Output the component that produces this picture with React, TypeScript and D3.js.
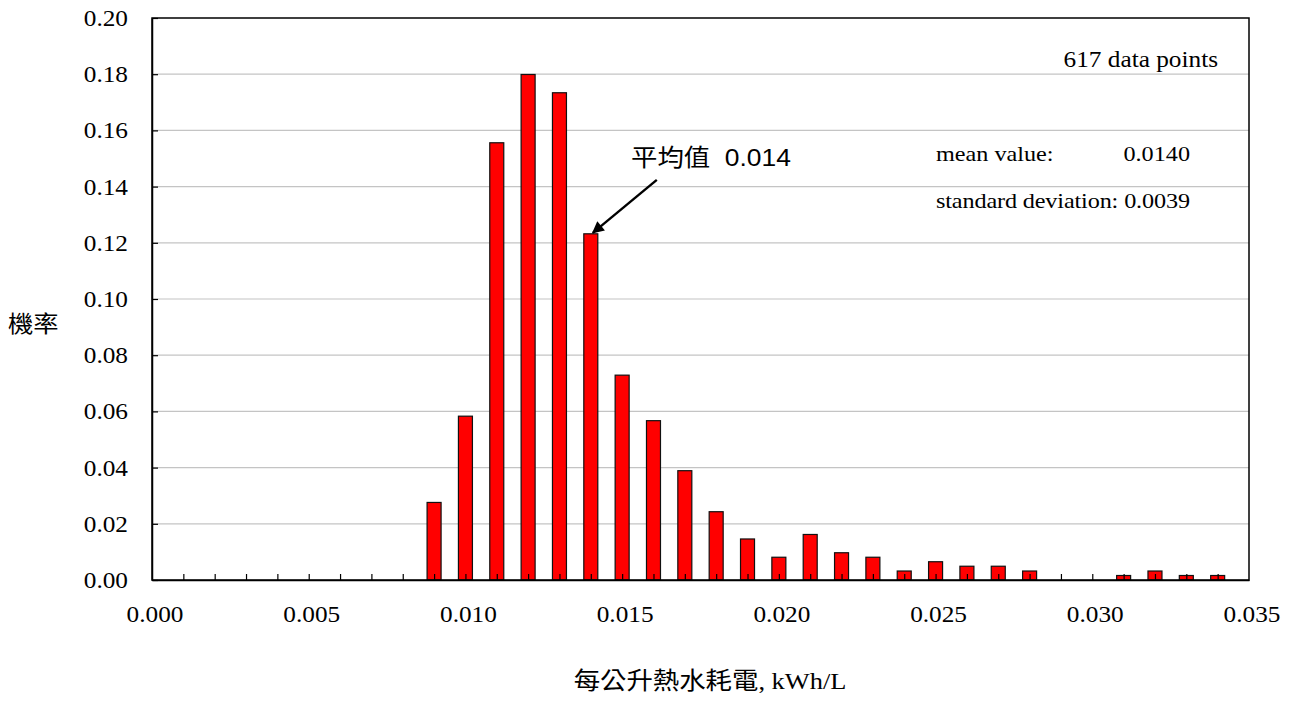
import React, { useEffect, useRef } from "react";
import * as d3 from "d3";

// bin centres (kWh/L) and probability of each bin
const binCenters = [
  0.009, 0.010, 0.011, 0.012, 0.013, 0.014, 0.015, 0.016, 0.017, 0.018, 0.019, 0.020,
  0.021, 0.022, 0.023, 0.024, 0.025, 0.026, 0.027, 0.028, 0.029, 0.030, 0.031, 0.032,
  0.033, 0.034,
];
const probabilities = [
  0.0276, 0.0583, 0.1556, 0.1799, 0.1734, 0.1232, 0.0729, 0.0567, 0.0389, 0.0243, 0.0146, 0.0081,
  0.0162, 0.0097, 0.0081, 0.0032, 0.0065, 0.0049, 0.0049, 0.0032, 0, 0, 0.0016, 0.0032,
  0.0016, 0.0016,
];
const xTickLabels = [0, 0.005, 0.01, 0.015, 0.02, 0.025, 0.03, 0.035];
const yTickValues = [0, 0.02, 0.04, 0.06, 0.08, 0.1, 0.12, 0.14, 0.16, 0.18, 0.2];

const meanValue = 0.014;
const stdDev = 0.0039;
const pointCount = 617;

const serif = "'Times New Roman', 'Liberation Serif', 'Noto Sans CJK TC', serif";
const sans = "Arial, 'Liberation Sans', 'Noto Sans CJK TC', sans-serif";
const stretch = 1.1; // the original picture is a bit wider than tall

const App = () => {
  const svgRef = useRef<SVGSVGElement>(null);

  useEffect(() => {
    const W = 1292;
    const H = 702;
    const margin = { top: 18, right: 43, bottom: 122, left: 152 };

    const svg = d3.select(svgRef.current);
    svg.selectAll("*").remove();
    svg.attr("width", W).attr("height", H);

    // text helper: positioned by transform so it can be stretched horizontally
    const label = (px: number, py: number, txt: string, opts: any = {}) => {
      const t = svg.append("text")
        .attr("transform", `translate(${px}, ${py}) scale(${stretch}, 1)`)
        .attr("text-anchor", opts.anchor || "start")
        .style("font-family", opts.family || serif)
        .style("font-size", `${opts.size || 23}px`)
        .attr("fill", "#000")
        .text(txt);
      if (opts.length) t.attr("textLength", opts.length / stretch);
      return t;
    };

    const x = d3.scaleLinear().domain([0, 0.035]).range([margin.left, W - margin.right]);
    const y = d3.scaleLinear().domain([0, 0.2]).range([H - margin.bottom, margin.top]);
    const barW = 14;

    // gridlines
    svg.append("g")
      .selectAll("line")
      .data(yTickValues.filter(v => v > 0 && v < 0.2))
      .enter().append("line")
      .attr("x1", x(0)).attr("x2", x(0.035))
      .attr("y1", d => y(d)).attr("y2", d => y(d))
      .attr("stroke", "#c4c4c4").attr("stroke-width", 1.2);

    // bars
    svg.append("g")
      .selectAll("rect")
      .data(binCenters.map((c, i) => ({ c, p: probabilities[i] })).filter(d => d.p > 0))
      .enter().append("rect")
      .attr("x", d => x(d.c) - barW / 2)
      .attr("y", d => y(d.p))
      .attr("width", barW)
      .attr("height", d => y(0) - y(d.p))
      .attr("fill", "#ff0000")
      .attr("stroke", "#111").attr("stroke-width", 1.2);

    // frame
    svg.append("rect")
      .attr("x", x(0)).attr("y", y(0.2))
      .attr("width", x(0.035) - x(0)).attr("height", y(0) - y(0.2))
      .attr("fill", "none").attr("stroke", "#000").attr("stroke-width", 1.5);

    // x axis: inside ticks every 0.001, labels every 0.005
    const xAxis = d3.axisBottom(x)
      .tickValues(d3.range(1, 35).map(i => i / 1000))
      .tickSizeInner(-6).tickSizeOuter(0)
      .tickFormat(() => "");
    const gx = svg.append("g").attr("transform", `translate(0, ${y(0)})`).call(xAxis);
    gx.select(".domain").attr("stroke", "#000").attr("stroke-width", 1.5);
    gx.selectAll(".tick line").attr("stroke", "#000").attr("stroke-width", 1.2);

    xTickLabels.forEach(v => label(x(v) + 3, y(0) + 42, d3.format(".3f")(v), { anchor: "middle" }));

    // y axis: inside ticks, labels on the left
    const yAxis = d3.axisLeft(y)
      .tickValues(yTickValues)
      .tickSizeInner(-6).tickSizeOuter(0)
      .tickFormat(() => "");
    const gy = svg.append("g").attr("transform", `translate(${x(0)}, 0)`).call(yAxis);
    gy.select(".domain").attr("stroke", "#000").attr("stroke-width", 1.5);
    gy.selectAll(".tick line").attr("stroke", "#000").attr("stroke-width", 1.2);

    yTickValues.forEach(v => label(128, y(v) + 8, d3.format(".2f")(v), { anchor: "end" }));

    // axis titles
    label(8, 332, "機率");
    label(710, 689, "每公升熱水耗電, kWh/L", { anchor: "middle", size: 24 });

    // stats block
    label(1218, 67, `${pointCount} data points`, { anchor: "end" });
    label(936, 161, "mean value:", { size: 22 });
    label(1190, 161, meanValue.toFixed(4), { anchor: "end", size: 22 });
    label(936, 208, `standard deviation: ${stdDev.toFixed(4)}`, { size: 22, length: 254 });

    // mean annotation with arrow
    const defs = svg.append("defs");
    defs.append("marker")
      .attr("id", "arrowHead")
      .attr("viewBox", "0 0 10 10")
      .attr("refX", 9).attr("refY", 5)
      .attr("markerWidth", 5.5).attr("markerHeight", 5)
      .attr("orient", "auto")
      .append("path").attr("d", "M0,0 L10,5 L0,10 Z").attr("fill", "#000");

    const meanIdx = binCenters.indexOf(meanValue);
    const tipX = x(meanValue) + 2;
    const tipY = y(probabilities[meanIdx]) - 1;
    svg.append("line")
      .attr("x1", tipX + 64).attr("y1", tipY - 53)
      .attr("x2", tipX).attr("y2", tipY)
      .attr("stroke", "#000").attr("stroke-width", 2.4)
      .attr("marker-end", "url(#arrowHead)");

    label(631, 166, "平均值\u00a0 0.014", { family: sans, size: 24 });
  }, []);

  return (
    <svg ref={svgRef} style={{ position: "absolute", left: 0, top: 0, background: "#fff" }}></svg>
  );
};

export default App;
